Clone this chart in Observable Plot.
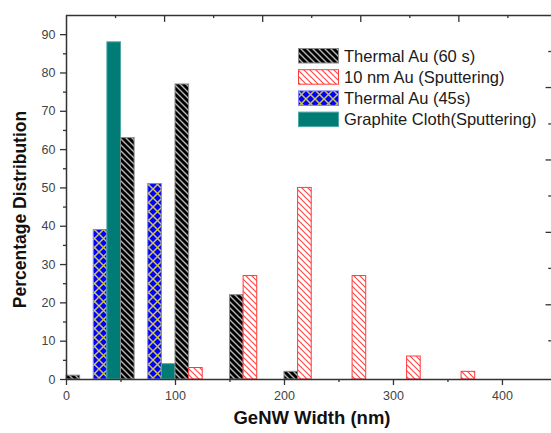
<!DOCTYPE html>
<html>
<head>
<meta charset="utf-8">
<script src="https://cdn.jsdelivr.net/npm/d3@7"></script>
<script src="https://cdn.jsdelivr.net/npm/@observablehq/plot@0.6"></script>
<style>
  html, body { margin: 0; padding: 0; background: #fff; }
  #chart svg { display: block; font-family: "Liberation Sans", Arial, sans-serif; }
</style>
</head>
<body>
<div id="chart"></div>
<script>
// ---- data ----
const bins = [0, 50, 100, 150, 200, 250, 300, 350];
const seriesNames = ["Thermal Au (60 s)", "10 nm Au (Sputtering)", "Thermal Au (45s)", "Graphite Cloth(Sputtering)"];
const thermal60 = [1, 63, 77, 22, 2, 0, 0, 0];
const sputter10 = [0, 0, 3, 27, 50, 27, 6, 2];
const thermal45 = [0, 39, 51, 0, 0, 0, 0, 0];
const graphite = [0, 88, 4, 0, 0, 0, 0, 0];
const yTicks = [0, 10, 20, 30, 40, 50, 60, 70, 80, 90];
const yMinor = [5, 15, 25, 35, 45, 55, 65, 75, 85];
const xTicks = [0, 100, 200, 300, 400];
const xMinor = [50, 150, 250, 350];
const topMajor = [90, 180, 270, 360];
const topMinor = [45, 135, 225, 315, 405];
const rightMajor = [19.5, 38.4, 57.3, 76.2];
const rightMinor = [10.1, 29, 47.9, 66.7, 85.6];

const binWidth = 50;
const slot = binWidth / 4;
// order inside each bin: Thermal45, Graphite, Thermal60, Sputter10
const seriesDefs = [
  {name: seriesNames[2], values: thermal45, slot: -2, fill: "url(#patBlue)", stroke: "#7b7bff"},
  {name: seriesNames[3], values: graphite, slot: -1, fill: "#007b76", stroke: "#4fa9a3"},
  {name: seriesNames[0], values: thermal60, slot: 0, fill: "url(#patBlack)", stroke: "#8a8a8a"},
  {name: seriesNames[1], values: sputter10, slot: 1, fill: "url(#patRed)", stroke: "#ff3b3b"}
];
const rows = [];
for (const s of seriesDefs) {
  bins.forEach((b, i) => {
    if (s.values[i] > 0) rows.push({series: s.name, x1: b + s.slot * slot, x2: b + (s.slot + 1) * slot, y: s.values[i], fill: s.fill, stroke: s.stroke});
  });
}

const axisColor = "#333";
const chart = Plot.plot({
  width: 551,
  height: 433,
  marginLeft: 66,
  marginRight: 0,
  marginTop: 15,
  marginBottom: 54,
  style: {fontFamily: "Liberation Sans, Arial, sans-serif", fontSize: "12.5px", color: "#333", background: "#fff"},
  x: {domain: [0, 445], label: null},
  y: {domain: [0, 95], label: null},
  marks: [
    Plot.rect(rows, {x1: "x1", x2: "x2", y1: 0, y2: "y", fill: "fill", stroke: "stroke", strokeWidth: 1}),
    Plot.axisY({ticks: yTicks, tickSize: 6, tickPadding: 5, stroke: axisColor, strokeWidth: 1.3, fill: "#444", label: null}),
    Plot.axisY({ticks: yMinor, tickSize: 3, tickFormat: () => "", stroke: axisColor, strokeWidth: 1.3, label: null}),
    Plot.axisX({ticks: xTicks, tickSize: 6, tickPadding: 6, stroke: axisColor, strokeWidth: 1.3, fill: "#444", label: null}),
    Plot.axisX({ticks: xMinor, tickSize: 3, tickFormat: () => "", stroke: axisColor, strokeWidth: 1.3, label: null}),
    Plot.ruleX(topMajor, {y1: 95, y2: 93.2, stroke: axisColor, strokeWidth: 1.3}),
    Plot.ruleX(topMinor, {y1: 95, y2: 94.2, stroke: axisColor, strokeWidth: 1.3}),
    Plot.ruleY(rightMajor, {x1: 445, x2: 440, stroke: axisColor, strokeWidth: 1.3}),
    Plot.ruleY(rightMinor, {x1: 445, x2: 442.5, stroke: axisColor, strokeWidth: 1.3}),
    Plot.ruleX([0], {y1: 0, y2: 95, stroke: axisColor, strokeWidth: 1.5}),
    Plot.ruleY([0], {x1: 0, x2: 445, stroke: axisColor, strokeWidth: 1.5}),
    Plot.ruleY([95], {x1: 0, x2: 445, stroke: axisColor, strokeWidth: 1.5}),
    Plot.text(["GeNW Width (nm)"], {frameAnchor: "bottom", textAnchor: "middle", dx: 3, dy: 44, fontWeight: "bold", fontSize: 18.5, fill: "#111"}),
    Plot.text(["Percentage Distribution"], {frameAnchor: "left", textAnchor: "middle", dx: -46, dy: 12, rotate: -90, fontWeight: "bold", fontSize: 17.5, fill: "#111"})
  ]
});

// patterns
const svg = d3.select(chart);
const defs = svg.insert("defs", ":first-child");
const pBlack = defs.append("pattern").attr("id", "patBlack").attr("patternUnits", "userSpaceOnUse").attr("width", 6).attr("height", 6);
pBlack.append("rect").attr("width", 6).attr("height", 6).attr("fill", "#000");
pBlack.append("path").attr("d", "M-1,-1 L7,7 M-4,2 L2,8 M2,-4 L8,2").attr("stroke", "#b5b5b5").attr("stroke-width", 1.4);
const pRed = defs.append("pattern").attr("id", "patRed").attr("patternUnits", "userSpaceOnUse").attr("width", 6).attr("height", 6);
pRed.append("rect").attr("width", 6).attr("height", 6).attr("fill", "#fff");
pRed.append("path").attr("d", "M-1,-1 L7,7 M-4,2 L2,8 M2,-4 L8,2").attr("stroke", "#ff4a4a").attr("stroke-width", 1.2);
const pBlue = defs.append("pattern").attr("id", "patBlue").attr("patternUnits", "userSpaceOnUse").attr("width", 9).attr("height", 9);
pBlue.append("rect").attr("width", 9).attr("height", 9).attr("fill", "#0000ff");
pBlue.append("path").attr("d", "M0,0 L9,9 M9,0 L0,9").attr("stroke", "#c9c35a").attr("stroke-width", 1.5);

// legend
const legend = svg.append("g").attr("font-family", "Liberation Sans, Arial, sans-serif").attr("font-size", 16.5).attr("text-anchor", "start");
const legendItems = [
  {name: seriesNames[0], fill: "url(#patBlack)", stroke: "#8a8a8a"},
  {name: seriesNames[1], fill: "url(#patRed)", stroke: "#ff3b3b"},
  {name: seriesNames[2], fill: "url(#patBlue)", stroke: "#7b7bff"},
  {name: seriesNames[3], fill: "#007b76", stroke: "#4fa9a3"}
];
legendItems.forEach((d, i) => {
  const y = 48.5 + i * 21.2;
  legend.append("rect").attr("x", 298.5).attr("y", y).attr("width", 40).attr("height", 14.5)
    .attr("fill", d.fill).attr("stroke", d.stroke).attr("stroke-width", 1);
  legend.append("text").attr("x", 344).attr("y", y + 13).attr("text-anchor", "start").attr("fill", "#1a1a1a").text(d.name);
});

document.getElementById("chart").appendChild(chart);
</script>
</body>
</html>
